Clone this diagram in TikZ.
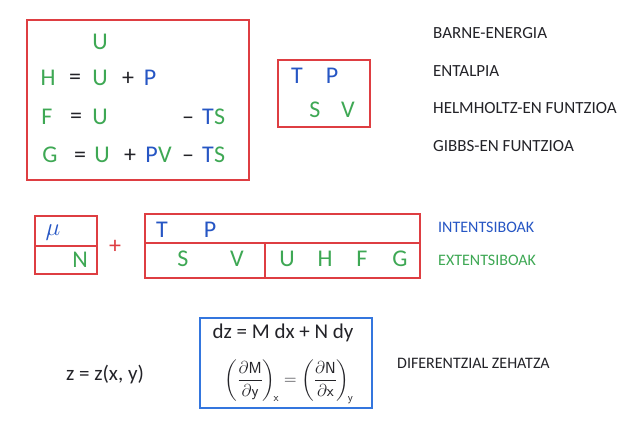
\documentclass[tikz,border=0pt]{standalone}
\usepackage{fontspec}
\setmainfont{Carlito}
\usepackage{amsmath}
\definecolor{penred}{RGB}{222,62,66}
\definecolor{pengreen}{RGB}{62,168,84}
\definecolor{penblue}{RGB}{38,86,196}
\definecolor{boxblue}{RGB}{52,118,222}
\definecolor{ink}{RGB}{35,35,40}
\tikzset{
  redframe/.style={draw=penred, line width=1.6pt},
  blueframe/.style={draw=boxblue, line width=1.7pt},
  sym/.style={font=\fontsize{24}{26}\selectfont, inner sep=0pt},
  gv/.style={sym, text=pengreen},
  bv/.style={sym, text=penblue},
  op/.style={sym, text=ink},
  lbl/.style={font=\fontsize{17}{19}\selectfont, text=ink, anchor=west, inner sep=0pt},
}
\begin{document}
\begin{tikzpicture}[x=1pt,y=-1pt]
\useasboundingbox (0,0) rectangle (630,422);
\fill[white] (0,0) rectangle (630,422);

% --- thermodynamic potentials ---
\draw[redframe] (27,20) rectangle (249,180);
\node[gv] (u0) at (100,42) {U};
\node[gv] (H1) at (48,78) {H};
\node[op] (e1) at (75,79) {=};
\node[gv] (u1) at (100,78) {U};
\node[op] (p1) at (128,79) {+};
\node[bv] (P1) at (150,78) {P};
\node[gv] (F2) at (47,117) {F};
\node[op] (e2) at (76,118) {=};
\node[gv] (u2) at (100,117) {U};
\node[op] (m2) at (188,121) {\textendash};
\node[bv,anchor=east] (T2) at (214,117) {T};
\node[gv,anchor=west] (S2) at (214,117) {S};
\node[gv] (G3) at (50,155) {G};
\node[op] (e3) at (80,157) {=};
\node[gv] (u3) at (102,155) {U};
\node[op] (p3) at (130,156) {+};
\node[bv,anchor=east] (P3) at (158,155) {P};
\node[gv,anchor=west] (V3) at (158,155) {V};
\node[op] (m3) at (188,159) {\textendash};
\node[bv,anchor=east] (T3) at (214,155) {T};
\node[gv,anchor=west] (S3) at (214,155) {S};

% --- natural variables ---
\draw[redframe] (278,60) rectangle (370,127);
\node[bv] (Ta) at (297,76) {T};
\node[bv] (Pa) at (332,76) {P};
\node[gv] (Sa) at (315,110) {S};
\node[gv] (Va) at (348,110) {V};

% --- names ---
\node[lbl] (n1) at (433,33) {BARNE-ENERGIA};
\node[lbl] (n2) at (433,71) {ENTALPIA};
\node[lbl] (n3) at (433,108) {HELMHOLTZ-EN FUNTZIOA};
\node[lbl] (n4) at (433,146) {GIBBS-EN FUNTZIOA};

% --- conjugate pairs ---
\draw[redframe] (35,216) rectangle (97,274);
\draw[redframe] (35,246) -- (97,246);
\node[bv] (mu) at (53,233) {\(\mu\)};
\node[gv] (Nb) at (80,260) {N};
\node[sym,text=penred] (plus) at (115,247) {+};
\draw[redframe] (145,214) rectangle (420,278);
\draw[redframe] (145,243) -- (420,243);
\draw[redframe] (265,243) -- (265,278);
\node[bv] (Tb) at (162,230) {T};
\node[bv] (Pb) at (210,230) {P};
\node[gv] (Sb) at (183,259) {S};
\node[gv] (Vb) at (237,259) {V};
\node[gv] (Ub) at (287,259) {U};
\node[gv] (Hb) at (325,259) {H};
\node[gv] (Fb) at (362,259) {F};
\node[gv] (Gb) at (400,259) {G};
\node[lbl,font=\fontsize{16}{18}\selectfont,text=penblue] (int) at (438,227) {INTENTSIBOAK};
\node[lbl,font=\fontsize{16}{18}\selectfont,text=pengreen] (ext) at (438,260) {EXTENTSIBOAK};

% --- exact differential ---
\node[lbl,anchor=center,font=\fontsize{21}{23}\selectfont] (zf) at (105,375) {z = z(x, y)};
\draw[blueframe] (200,318) rectangle (372,408);
\node[lbl,anchor=center,font=\fontsize{21}{23}\selectfont] (dz) at (283,333) {dz = M dx + N dy};
\node[text=ink,inner sep=0pt,font=\fontsize{16}{19}\selectfont] (mx) at (289,382)
  {\(\displaystyle \left(\frac{\partial \mathsf{M}}{\partial \mathsf{y}}\right)_{\!\mathsf{x}} = \left(\frac{\partial \mathsf{N}}{\partial \mathsf{x}}\right)_{\!\mathsf{y}}\)};
\node[lbl,font=\fontsize{16}{18}\selectfont] (ez) at (397,363) {DIFERENTZIAL ZEHATZA};
\end{tikzpicture}
\end{document}
